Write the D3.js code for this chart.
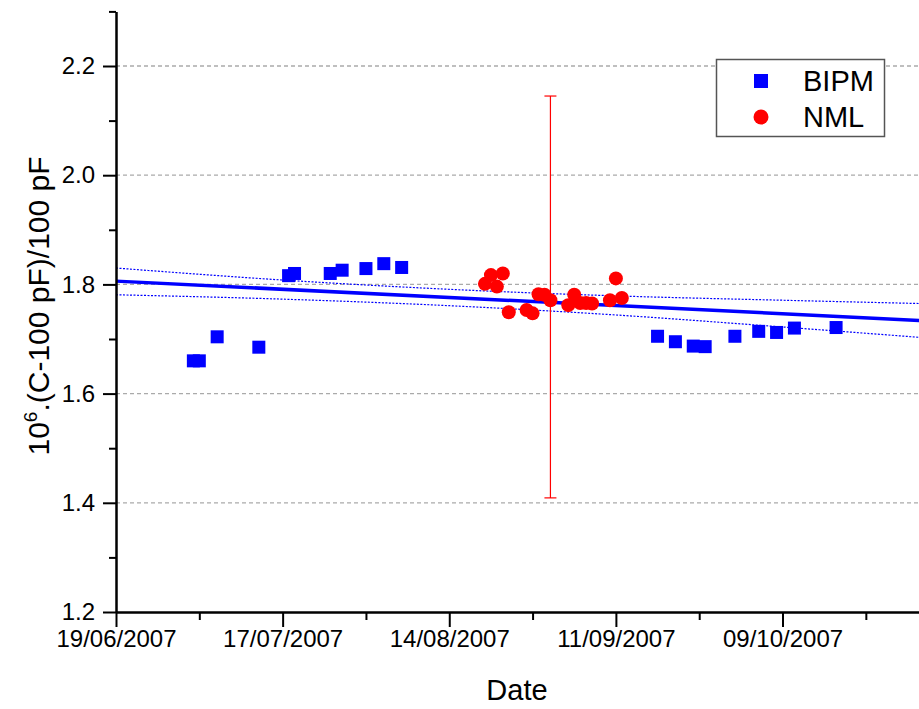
<!DOCTYPE html>
<html><head><meta charset="utf-8">
<script src="https://cdn.jsdelivr.net/npm/d3@7"></script>
<style>
body{margin:0;background:#fff}
text{font-family:"Liberation Sans",Arial,sans-serif}
</style>
</head><body>
<svg id="c" width="919" height="709"></svg>
<script>
// ---- data ----
const bipmDates = ["02/07/2007","03/07/2007","06/07/2007","13/07/2007","18/07/2007","19/07/2007","25/07/2007","27/07/2007","31/07/2007","03/08/2007","06/08/2007","18/09/2007","21/09/2007","24/09/2007","26/09/2007","01/10/2007","05/10/2007","08/10/2007","11/10/2007","18/10/2007"];
const bipmValues = [1.660,1.660,1.704,1.685,1.816,1.820,1.820,1.826,1.829,1.838,1.831,1.705,1.695,1.687,1.686,1.705,1.714,1.712,1.720,1.721];
const nmlDates = ["20/08/2007","21/08/2007","22/08/2007","23/08/2007","24/08/2007","27/08/2007","28/08/2007","29/08/2007","30/08/2007","31/08/2007","03/09/2007","04/09/2007","05/09/2007","06/09/2007","07/09/2007","10/09/2007","11/09/2007","12/09/2007"];
const nmlValues = [1.801,1.817,1.796,1.820,1.749,1.753,1.747,1.782,1.781,1.771,1.762,1.781,1.766,1.766,1.765,1.771,1.811,1.775];
const errDates = ["31/08/2007"];
const errCenters = [1.777];
const errHalfWidths = [0.368];
const fitDates = ["19/06/2007","01/11/2007"];
const fitValues = [1.806,1.734];
const bandDates = ["19/06/2007","17/07/2007","14/08/2007","11/09/2007","09/10/2007","01/11/2007"];
const bandUpper = [1.830,1.808,1.791,1.779,1.771,1.765];
const bandLower = [1.781,1.773,1.761,1.744,1.722,1.703];
const xTickLabels = ["19/06/2007","17/07/2007","14/08/2007","11/09/2007","09/10/2007"];
const xMinorTickLabels = ["03/07/2007","31/07/2007","28/08/2007","25/09/2007","23/10/2007"];
const xDomain = ["19/06/2007","01/11/2007"];
const yTicks = [1.2,1.4,1.6,1.8,2.0,2.2];
const yMinorTicks = [1.3,1.5,1.7,1.9,2.1,2.3];
const yGrid = [1.4,1.6,1.8,2.0,2.2];
const yDomain = [1.2,2.3];
const seriesNames = ["BIPM","NML"];

// ---- drawing ----
const parse = d3.utcParse("%d/%m/%Y");
const fmt = d3.utcFormat("%d/%m/%Y");
const svg = d3.select("#c");
const x = d3.scaleUtc().domain(xDomain.map(parse)).range([116, 919.4]);
const y = d3.scaleLinear().domain(yDomain).range([612, 11.4]);

// grid
svg.append("g").selectAll("line").data(yGrid).join("line")
  .attr("x1", x.range()[0]).attr("x2", x.range()[1])
  .attr("y1", d => y(d)).attr("y2", d => y(d))
  .attr("stroke", "#aaa").attr("stroke-width", 1.3).attr("stroke-dasharray", "4,3");

// confidence band (dotted)
const bandLine = d3.line().x(d => x(d[0])).y(d => y(d[1])).curve(d3.curveMonotoneX);
[bandUpper, bandLower].forEach(vals => {
  svg.append("path").datum(bandDates.map((d, i) => [parse(d), vals[i]]))
    .attr("d", bandLine).attr("fill", "none").attr("stroke", "#0000ff")
    .attr("stroke-width", 1.2).attr("stroke-dasharray", "2,1.5");
});

// fit line
svg.append("path").datum(fitDates.map((d, i) => [parse(d), fitValues[i]]))
  .attr("d", d3.line().x(d => x(d[0])).y(d => y(d[1])))
  .attr("fill", "none").attr("stroke", "#0000ff").attr("stroke-width", 3.5);

// error bar
const eg = svg.append("g").attr("stroke", "#ff0000").attr("stroke-width", 1.2);
errDates.forEach((d, i) => {
  const xx = x(parse(d));
  const y1 = y(errCenters[i] + errHalfWidths[i]), y2 = y(errCenters[i] - errHalfWidths[i]);
  eg.append("line").attr("x1", xx).attr("x2", xx).attr("y1", y1).attr("y2", y2);
  eg.append("line").attr("x1", xx - 6).attr("x2", xx + 6).attr("y1", y1).attr("y2", y1);
  eg.append("line").attr("x1", xx - 6).attr("x2", xx + 6).attr("y1", y2).attr("y2", y2);
});

// BIPM squares
const sq = 13;
svg.append("g").selectAll("rect").data(bipmDates.map((d, i) => [parse(d), bipmValues[i]])).join("rect")
  .attr("x", d => x(d[0]) - sq / 2).attr("y", d => y(d[1]) - sq / 2)
  .attr("width", sq).attr("height", sq).attr("fill", "#0000ff");

// NML circles
svg.append("g").selectAll("circle").data(nmlDates.map((d, i) => [parse(d), nmlValues[i]])).join("circle")
  .attr("cx", d => x(d[0])).attr("cy", d => y(d[1])).attr("r", 7).attr("fill", "#ff0000");

// axes
const xAxis = svg.append("g").attr("transform", "translate(0,612)")
  .call(d3.axisBottom(x).tickValues(xTickLabels.map(parse)).tickFormat(fmt).tickSize(15).tickSizeOuter(0).tickPadding(3));
const xMinor = svg.append("g").attr("transform", "translate(0,612)")
  .call(d3.axisBottom(x).tickValues(xMinorTickLabels.map(parse)).tickFormat("").tickSize(8).tickSizeOuter(0));
const yAxis = svg.append("g").attr("transform", "translate(116,0)")
  .call(d3.axisLeft(y).tickValues(yTicks).tickFormat(d3.format(".1f")).tickSize(13).tickSizeOuter(0).tickPadding(8));
const yMinor = svg.append("g").attr("transform", "translate(116,0)")
  .call(d3.axisLeft(y).tickValues(yMinorTicks).tickFormat("").tickSize(7).tickSizeOuter(0));
[xAxis, xMinor, yAxis, yMinor].forEach(g => {
  g.select(".domain").attr("stroke", "#000").attr("stroke-width", 2);
  g.selectAll(".tick line").attr("stroke", "#000").attr("stroke-width", 2);
  g.selectAll(".tick text").attr("font-size", 24).attr("fill", "#000")
    .attr("font-family", "'Liberation Sans', Arial, sans-serif");
});

// axis titles
svg.append("text").attr("x", 517).attr("y", 700).attr("text-anchor", "middle")
  .attr("font-size", 29).text("Date");
const yt = svg.append("text").attr("transform", "translate(49,306) rotate(-90)")
  .attr("text-anchor", "middle").attr("font-size", 30);
yt.append("tspan").text("10");
yt.append("tspan").attr("font-size", 19).attr("dy", -12).text("6");
yt.append("tspan").attr("dy", 12).text(".(C-100 pF)/100 pF");

// legend
const lg = svg.append("g");
lg.append("rect").attr("x", 716.5).attr("y", 59.5).attr("width", 168).attr("height", 77)
  .attr("fill", "#fff").attr("stroke", "#555").attr("stroke-width", 1.5);
lg.append("rect").attr("x", 761 - 7).attr("y", 81 - 7).attr("width", 14).attr("height", 14).attr("fill", "#0000ff");
lg.append("circle").attr("cx", 761).attr("cy", 117).attr("r", 7.5).attr("fill", "#ff0000");
lg.append("text").attr("x", 803).attr("y", 91).attr("font-size", 29).text(seriesNames[0]);
lg.append("text").attr("x", 803).attr("y", 127).attr("font-size", 29).text(seriesNames[1]);
</script>
</body></html>
